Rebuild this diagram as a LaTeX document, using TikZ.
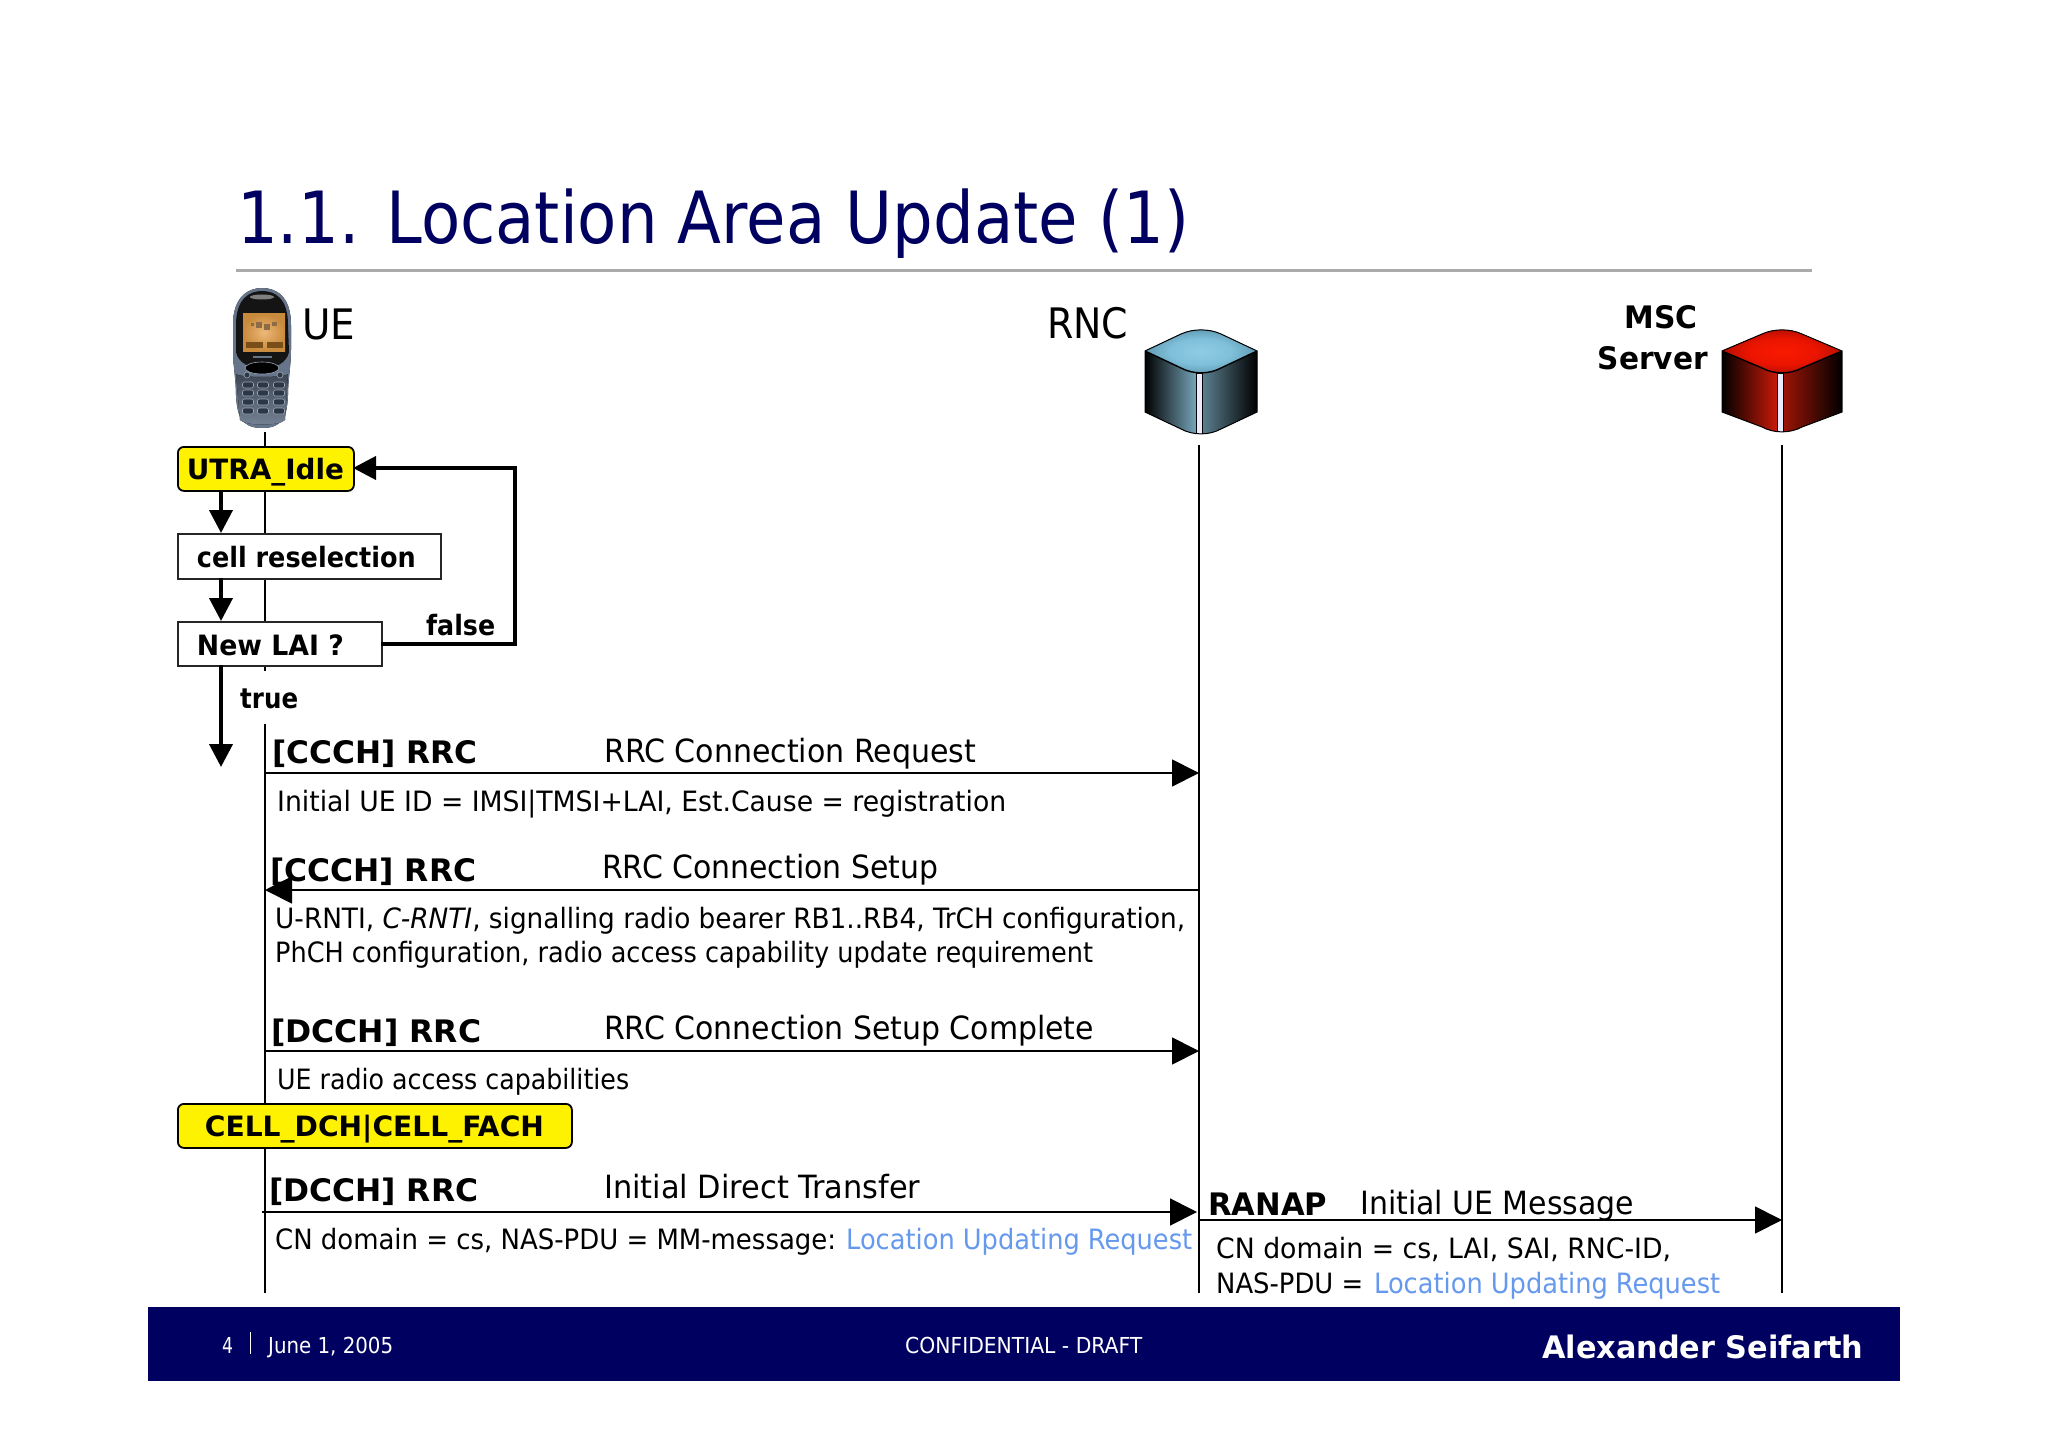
\documentclass[tikz,border=0pt]{standalone}
\usepackage{graphicx}
\usepackage{fontspec}
\setmainfont{DejaVu Sans Condensed}
\usetikzlibrary{arrows.meta,shadings}
\definecolor{navy}{HTML}{000060}
\definecolor{linkblue}{HTML}{6699EE}
\definecolor{rulegrey}{HTML}{AAAAAA}
\definecolor{rncside}{HTML}{7FB2C8}
\definecolor{mscside}{HTML}{D81C08}
\definecolor{slate}{HTML}{66758A}
\definecolor{slatedark}{HTML}{3E4958}
\definecolor{keydark}{HTML}{2C3644}
\definecolor{keyedge}{HTML}{9AA6B6}
\definecolor{screenmid}{HTML}{EDB878}
\definecolor{screenedge}{HTML}{C88A3C}
\definecolor{screenbit}{HTML}{8C6C44}
\definecolor{softkey}{HTML}{7A4E18}
\pgfdeclareradialshading{rncglow}{\pgfpoint{0bp}{0bp}}{rgb(0bp)=(.56,.80,.89);rgb(14bp)=(.50,.75,.85);rgb(28bp)=(.34,.56,.66);rgb(38bp)=(.08,.14,.18);rgb(50bp)=(0,0,0)}
\pgfdeclareradialshading{mscglow}{\pgfpoint{0bp}{0bp}}{rgb(0bp)=(.98,.10,0);rgb(14bp)=(.92,.08,0);rgb(28bp)=(.66,.05,0);rgb(38bp)=(.12,0,0);rgb(50bp)=(0,0,0)}
\newcommand\fitw[2]{\resizebox{#1pt}{\height}{#2}}
\newcommand\lbl[6]{\node[#1,anchor=base west,inner sep=0pt] (#2) at (#3,#4) {\fitw{#5}{#6}};}
% centre x, half width, bottom y, glow shading, side colour
\newcommand\device[5]{%
  \def\outline{(#1-#2,351) -- (#1-20,334) .. controls (#1-8,328.5) and (#1+8,328.5) .. (#1+20,334) -- (#1+#2,351) -- (#1+#2,412) -- (#1+20,#3-5) .. controls (#1+8,#3+1.5) and (#1-8,#3+1.5) .. (#1-20,#3-5) -- (#1-#2,412) -- cycle}
  \begin{scope}
    \clip \outline;
    \fill[left color=black,middle color=#5!60!black,right color=#5] (#1-#2,330) rectangle (#1-1,#3+3);
    \fill[left color=#5!75!black,middle color=#5!70!black,right color=black] (#1-1,330) rectangle (#1+#2,#3+3);
    \shade[shading=#4] (#1-#2,351) -- (#1-20,334) .. controls (#1-8,328.5) and (#1+8,328.5) .. (#1+20,334) -- (#1+#2,351) -- (#1+20,368) .. controls (#1+8,374.5) and (#1-8,374.5) .. (#1-20,368) -- cycle;
    \draw[black,line width=1.4pt] (#1-#2,351) -- (#1-20,368) .. controls (#1-8,374.5) and (#1+8,374.5) .. (#1+20,368) -- (#1+#2,351);
    \fill[white!92!blue,draw=black,line width=1.2pt] (#1-4.5,373) rectangle (#1+1.5,#3+3);
  \end{scope}
  \draw[black,line width=1pt] \outline;
}
\tikzset{
  lifeline/.style={draw=black,line width=1.6pt},
  msg/.style={draw=black,line width=1.8pt,-{Triangle[length=27pt,width=27pt]}},
  flow/.style={draw=black,line width=4pt,-{Triangle[length=23pt,width=23pt]}},
  statebox/.style={draw=black,fill=yellow,line width=1.8pt,rounded corners=6pt,inner sep=0pt,anchor=north west,font=\fontsize{28}{32}\selectfont\bfseries},
  stepbox/.style={draw=black!85,fill=white,line width=1.8pt,inner sep=0pt,anchor=north west,font=\fontsize{28}{32}\selectfont\bfseries},
  titletext/.style={font=\fontsize{72}{80}\selectfont,text=navy},
  headtext/.style={font=\fontsize{42}{48}\selectfont},
  headbold/.style={font=\fontsize{31}{36}\selectfont\bfseries},
  protobold/.style={font=\fontsize{31}{36}\selectfont\bfseries},
  msgname/.style={font=\fontsize{32}{36}\selectfont},
  param/.style={font=\fontsize{28}{32}\selectfont},
  paramblue/.style={font=\fontsize{28}{32}\selectfont,text=linkblue},
  flowlabel/.style={font=\fontsize{28}{32}\selectfont\bfseries},
  foot/.style={font=\fontsize{22}{26}\selectfont,text=white},
  footbold/.style={font=\fontsize{31}{36}\selectfont\bfseries,text=white},
}
\begin{document}
\begin{tikzpicture}[x=1pt,y=-1pt]
\useasboundingbox (0,0) rectangle (2048,1447);
\fill[white] (0,0) rectangle (2048,1447);

% title
\lbl{titletext}{title}{237}{244}{952}{1.1. Location Area Update (1)}
\coordinate (ruleL) at (236,271);
\coordinate (ruleR) at (1812,271);
\draw[rulegrey,line width=3pt] (ruleL) -- (ruleR);

% phone
\fill[left color=slate,middle color=slatedark,right color=slate] (233,325) .. controls (233,295) and (250,288) .. (262,288) .. controls (275,288) and (291,295) .. (291,325) -- (291,350) .. controls (291,365) and (288,380) .. (288,395) .. controls (287,415) and (284,428) .. (262,428) .. controls (241,428) and (237,415) .. (236,395) .. controls (236,380) and (233,365) .. (233,350) -- cycle;
\fill[black!92] (236,325) .. controls (236,298) and (250,291) .. (262,291) .. controls (275,291) and (288,298) .. (288,325) -- (289,352) .. controls (285,374) and (240,374) .. (236,352) -- cycle;
\fill[black!50] (262,297) ellipse[x radius=12pt,y radius=2.5pt];
\fill[top color=slate!60!black,bottom color=slate!90!white] (236,374) .. controls (240,378) and (285,378) .. (288,374) -- (285,420) .. controls (280,426) and (245,426) .. (240,420) -- cycle;
\shade[inner color=screenmid,outer color=screenedge] (243,314) rectangle (285,351);
\fill[screenbit] (251,323) rectangle (254,326);
\fill[screenbit] (256,322) rectangle (262,328);
\fill[screenbit] (264,324) rectangle (270,330);
\fill[screenbit] (272,322) rectangle (277,326);
\fill[softkey] (246,342) rectangle (263,348);
\fill[softkey] (267,342) rectangle (283,348);
\fill[slate] (253,356) rectangle (272,358);
\fill[black,draw=keyedge,line width=.6pt] (262,368) ellipse[x radius=17pt,y radius=6pt];
\foreach \kx in {248,263,279}{
  \foreach \ky in {385,393,402,411}{
    \fill[keydark,draw=keyedge,line width=.6pt,rounded corners=2pt] (\kx-5.5,\ky-3) rectangle (\kx+5.5,\ky+3);
  }
}
\fill[keydark,draw=keyedge,line width=.6pt] (247,375) circle[radius=3pt];
\fill[keydark,draw=keyedge,line width=.6pt] (280,375) circle[radius=3pt];

% device icons
\device{1201}{56}{434}{rncglow}{rncside}
\device{1782}{60}{432}{mscglow}{mscside}

% lifeline anchors
\coordinate (ueTop) at (265,432);
\coordinate (ueGapA) at (265,671);
\coordinate (ueGapB) at (265,724);
\coordinate (ueEnd) at (265,1293);
\coordinate (rncTop) at (1199,445);
\coordinate (rncEnd) at (1199,1293);
\coordinate (mscTop) at (1782,445);
\coordinate (mscEnd) at (1782,1293);
\draw[lifeline] (ueTop) -- (ueGapA);
\draw[lifeline] (ueGapB) -- (ueEnd);
\draw[lifeline] (rncTop) -- (rncEnd);
\draw[lifeline] (mscTop) -- (mscEnd);

% head labels
\lbl{headtext}{ue}{302}{339}{53}{UE}
\lbl{headtext}{rnc}{1047}{338}{81}{RNC}
\lbl{headbold}{msc}{1624.5}{328}{73}{MSC}
\lbl{headbold}{server}{1597.5}{369}{110}{Server}

% state boxes
\node[statebox,minimum width=176pt,text height=33pt,text depth=11pt] (idle) at (177,446)
  {\makebox[176pt][l]{\hspace{9pt}\fitw{157}{UTRA\_Idle}}};
\node[stepbox,minimum width=263pt,text height=34pt,text depth=11pt] (resel) at (177,533)
  {\makebox[263pt][l]{\hspace{19pt}\fitw{219}{cell reselection}}};
\node[stepbox,minimum width=204pt,text height=34pt,text depth=10pt] (lai) at (177,621)
  {\makebox[204pt][l]{\hspace{19pt}\fitw{147}{New LAI ?}}};
\node[statebox,minimum width=394pt,text height=33pt,text depth=11pt] (cell) at (177,1103)
  {\makebox[394pt][l]{\hspace{27pt}\fitw{339}{CELL\_DCH|CELL\_FACH}}};

% flow arrows
\coordinate (fA) at (221,490);
\coordinate (fB) at (221,533);
\coordinate (fC) at (221,578);
\coordinate (fD) at (221,621);
\coordinate (fE) at (221,665);
\coordinate (fF) at (221,767);
\coordinate (loopA) at (515,644);
\coordinate (loopB) at (515,468);
\coordinate (laiR) at (381,644);
\coordinate (idleR) at (353,468);
\draw[flow] (fA) -- (fB);
\draw[flow] (fC) -- (fD);
\draw[flow] (fE) -- (fF);
\draw[flow] (laiR) -- (loopA) -- (loopB) -- (idleR);
\lbl{flowlabel}{falsel}{426}{635}{69}{false}
\lbl{flowlabel}{truel}{240}{708}{58}{true}

% message 1
\coordinate (m1a) at (265,773);
\coordinate (m1b) at (1199,773);
\draw[msg] (m1a) -- (m1b);
\lbl{protobold}{p1}{272}{763}{205}{[CCCH] RRC}
\lbl{msgname}{n1}{604}{762}{372}{RRC Connection Request}
\lbl{param}{q1}{277}{811}{729}{Initial UE ID = IMSI|TMSI+LAI, Est.Cause = registration}

% message 2
\coordinate (m2a) at (1199,890);
\coordinate (m2b) at (265,890);
\draw[msg] (m2a) -- (m2b);
\lbl{protobold}{p2}{270}{881}{206}{[CCCH] RRC}
\lbl{msgname}{n2}{602}{878}{336}{RRC Connection Setup}
\lbl{param}{q2}{275}{928}{910}{U-RNTI, \textit{C-RNTI}, signalling radio bearer RB1..RB4, TrCH configuration,}
\lbl{param}{q2b}{275}{962}{818}{PhCH configuration, radio access capability update requirement}

% message 3
\coordinate (m3a) at (265,1051);
\coordinate (m3b) at (1199,1051);
\draw[msg] (m3a) -- (m3b);
\lbl{protobold}{p3}{271}{1042}{210}{[DCCH] RRC}
\lbl{msgname}{n3}{604}{1039}{490}{RRC Connection Setup Complete}
\lbl{param}{q3}{277}{1089}{352}{UE radio access capabilities}

% message 4
\coordinate (m4a) at (262,1212);
\coordinate (m4b) at (1197,1212);
\draw[msg] (m4a) -- (m4b);
\lbl{protobold}{p4}{269}{1201}{209}{[DCCH] RRC}
\lbl{msgname}{n4}{604}{1198}{316}{Initial Direct Transfer}
\lbl{param}{q4}{275}{1249}{561}{CN domain = cs, NAS-PDU = MM-message:}
\lbl{paramblue}{q4b}{846}{1249}{346}{Location Updating Request}

% message 5
\coordinate (m5a) at (1199,1220);
\coordinate (m5b) at (1782,1220);
\draw[msg] (m5a) -- (m5b);
\lbl{protobold}{p5}{1208}{1215}{119}{RANAP}
\lbl{msgname}{n5}{1360}{1214}{274}{Initial UE Message}
\lbl{param}{q5}{1216}{1258}{455}{CN domain = cs, LAI, SAI, RNC-ID,}
\lbl{param}{q5b}{1216}{1293}{147}{NAS-PDU =}
\lbl{paramblue}{q5c}{1374}{1293}{346}{Location Updating Request}

% footer
\fill[navy] (148,1307) rectangle (1900,1381);
\lbl{foot}{f1}{222}{1353}{11}{4}
\coordinate (sepA) at (250,1332);
\coordinate (sepB) at (250,1354);
\draw[white,line width=1pt] (sepA) -- (sepB);
\lbl{foot}{f2}{268}{1353}{125}{June 1, 2005}
\lbl{foot}{f3}{905}{1353}{237}{CONFIDENTIAL - DRAFT}
\lbl{footbold}{f4}{1542}{1358}{321}{Alexander Seifarth}
\end{tikzpicture}
\end{document}
